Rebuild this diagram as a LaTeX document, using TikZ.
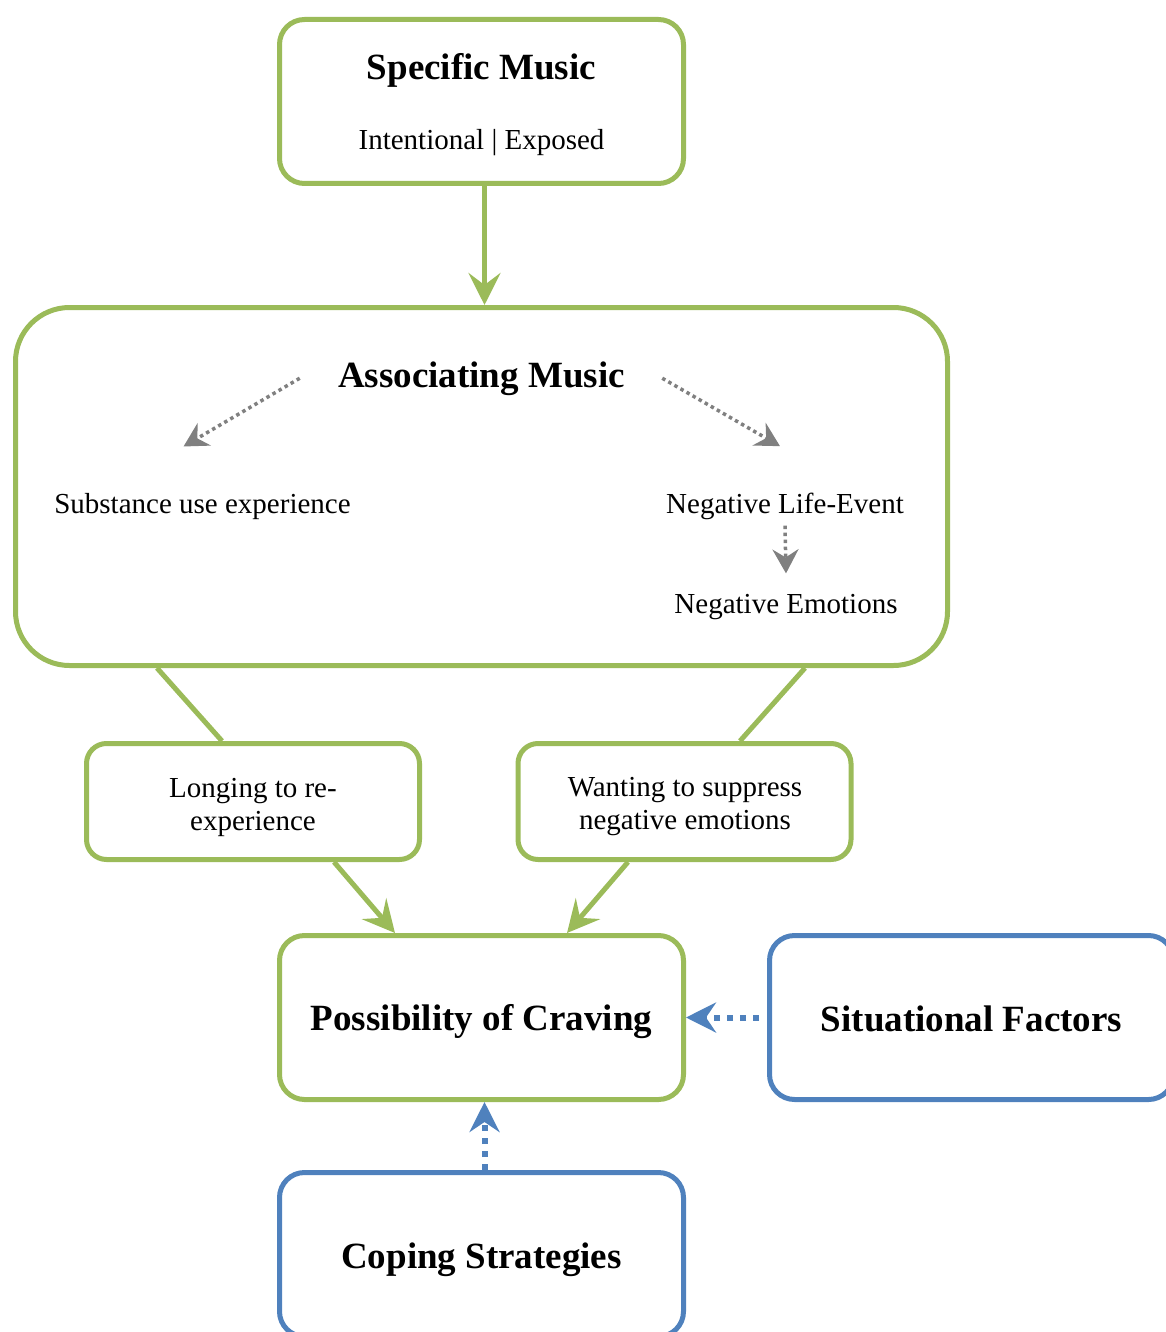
\documentclass[tikz,border=0pt]{standalone}
\usepackage{fontspec}
\setmainfont{Liberation Serif}
\usetikzlibrary{arrows.meta}

\definecolor{mygreen}{RGB}{155,187,89}
\definecolor{myblue}{RGB}{79,129,189}
\definecolor{mygrey}{RGB}{128,128,128}

\begin{document}
\begin{tikzpicture}[x=0.5pt, y=-0.5pt,
    greenbox/.style = {draw=mygreen, line width=2.5pt, rounded corners=12.5pt, minimum width=202pt, minimum height=82pt},
    smallbox/.style = {draw=mygreen, line width=2.5pt, rounded corners=10pt, minimum width=166.5pt, minimum height=58pt},
    bluebox/.style = {draw=myblue, line width=2.5pt, rounded corners=12.5pt, minimum width=202pt, minimum height=82pt},
    title/.style = {font=\fontsize{18.5}{22}\selectfont\bfseries, inner sep=0pt, anchor=base},
    plain/.style = {font=\fontsize{14.5}{16.5}\selectfont, inner sep=0pt, anchor=base},
    twoline/.style = {font=\fontsize{14.5}{16.5}\selectfont, align=center, inner sep=0pt},
    greenarrow/.style = {draw=mygreen, line width=2.5pt, -{Stealth[length=16pt, width=16pt, inset=6pt]}},
    greenline/.style = {draw=mygreen, line width=2.5pt},
    greyarrow/.style = {draw=mygrey, line width=1.75pt, dash pattern=on 1.75pt off 1.75pt, -{Stealth[length=12pt, width=13pt, inset=4pt]}},
    bluearrow/.style = {draw=myblue, line width=3pt, dash pattern=on 3pt off 3.5pt, -{Stealth[length=15pt, width=15pt, inset=5pt]}}]

        \useasboundingbox (0,0) rectangle (1166,1332);
        \clip (0,0) rectangle (1166,1332);

        % boxes
        \node[greenbox] (specific) at (481.5,101.5) {};
        \node[greenbox, rounded corners=27pt, minimum width=466pt, minimum height=179pt] (assoc) at (481.5,486.5) {};
        \node[smallbox] (longing) at (253,801.5) {};
        \node[smallbox] (wanting) at (684.5,801.5) {};
        \node[greenbox] (craving) at (481.5,1017.5) {};
        \node[bluebox] (situational) at (971.5,1017.5) {};
        \node[bluebox] (coping) at (481.5,1254.5) {};

        % texts
        \node[title] (spectitle) at (481.5,80) {Specific Music};
        \node[plain] (specsub) at (481.5,150) {Intentional | Exposed};
        \node[title] (assoctitle) at (481.5,387) {Associating Music};
        \node[plain] (substance) at (202.5,513) {Substance use experience};
        \node[plain] (lifeevent) at (785,513) {Negative Life-Event};
        \node[plain] (emotions) at (786,613) {Negative Emotions};
        \node[twoline] (longingtext) at (253,807) {Longing to re-\\experience};
        \node[twoline] (wantingtext) at (685,807) {Wanting to suppress\\negative emotions};
        \node[title] (cravingtitle) at (481.5,1030) {Possibility of Craving};
        \node[title] (situationaltitle) at (971.5,1031) {Situational Factors};
        \node[title] (copingtitle) at (481.5,1268) {Coping Strategies};

        % connectors
        \draw[greenarrow] ([xshift=1.5pt]specific.south) -- ([xshift=1.5pt]assoc.north);
        \draw[greyarrow] ([xshift=-19pt]assoctitle.west) -- ([shift={(-9.5pt,23pt)}]substance.north);
        \draw[greyarrow] ([xshift=18.5pt]assoctitle.east) -- ([shift={(-2.5pt,23pt)}]lifeevent.north);
        \draw[greyarrow] ([yshift=-3pt]lifeevent.south) -- ([yshift=10pt]emotions.north);
        \draw[greenline] ([xshift=-162.25pt]assoc.south) -- ([xshift=-15.5pt]longing.north);
        \draw[greenline] ([xshift=161.75pt]assoc.south) -- ([xshift=27.75pt]wanting.north);
        \draw[greenarrow] ([xshift=40.5pt]longing.south) -- ([xshift=-43.25pt]craving.north);
        \draw[greenarrow] ([xshift=-28.25pt]wanting.south) -- ([xshift=42.75pt]craving.north);
        \draw[bluearrow, shorten <=4pt] (situational.west) -- (craving.east);
        \draw[bluearrow] ([xshift=1.5pt]coping.north) -- ([xshift=1.5pt]craving.south);

\end{tikzpicture}
\end{document}
